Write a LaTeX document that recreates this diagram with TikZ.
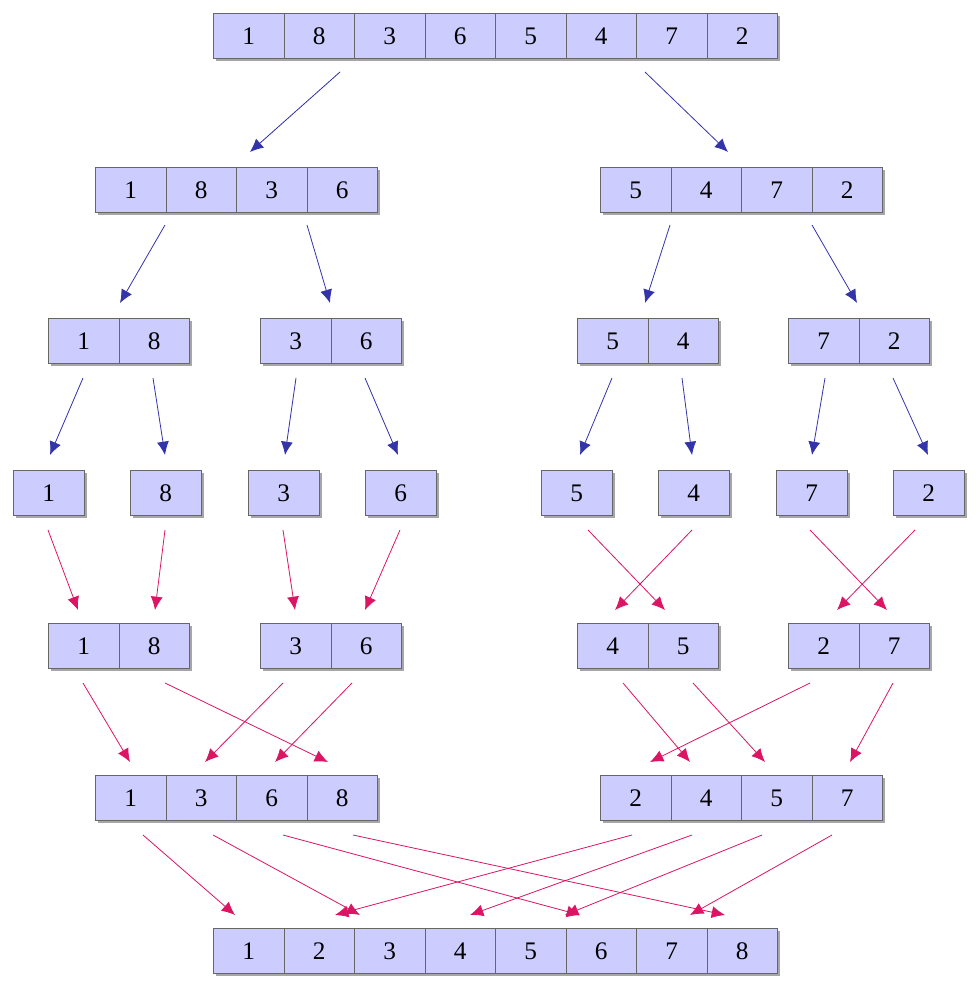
\documentclass[tikz,border=0pt]{standalone}
\usepackage{fontspec}
\setmainfont{Liberation Serif}
\usetikzlibrary{arrows.meta}
\begin{document}
\begin{tikzpicture}[x=0.0264cm,y=-0.0264cm,
 cell/.style={draw=gray!80!black,fill={rgb,255:red,204;green,204;blue,255},minimum width=70.5*0.0264cm,minimum height=45*0.0264cm,inner sep=0pt,font=\fontsize{19}{19}\selectfont,line width=0.8pt},
 ba/.style={draw={rgb,255:red,51;green,51;blue,170},line width=0.6pt,-{Latex[length=10pt,width=9pt]}},
 ra/.style={draw={rgb,255:red,220;green,20;blue,100},line width=0.6pt,-{Latex[length=10pt,width=9pt]}}]
\useasboundingbox (0,0) rectangle (980,992);
\newcommand{\arr}[4]{%
 \foreach \v [count=\i] in {#3}{%
  \fill[gray!70] ({#1+(\i-1)*70.5+3},{#2+3}) rectangle ++(70.5,45);}
 \foreach \v [count=\i] in {#3}{%
  \node[cell,anchor=north west] (#4\i) at ({#1+(\i-1)*70.5},#2) {\v};}}
\arr{213}{13}{1,8,3,6,5,4,7,2}{a}
\arr{95}{167}{1,8,3,6}{b}
\arr{600}{167}{5,4,7,2}{c}
\arr{48}{318}{1,8}{d}
\arr{260}{318}{3,6}{e}
\arr{577}{318}{5,4}{f}
\arr{788}{318}{7,2}{g}
\arr{13}{470}{1}{h}
\arr{130}{470}{8}{i}
\arr{248}{470}{3}{j}
\arr{365}{470}{6}{k}
\arr{541}{470}{5}{l}
\arr{658}{470}{4}{m}
\arr{776}{470}{7}{n}
\arr{893}{470}{2}{o}
\arr{48}{623}{1,8}{p}
\arr{260}{623}{3,6}{q}
\arr{577}{623}{4,5}{r}
\arr{788}{623}{2,7}{s}
\arr{95}{775}{1,3,6,8}{t}
\arr{600}{775}{2,4,5,7}{u}
\arr{213}{928}{1,2,3,4,5,6,7,8}{v}
\foreach \a/\b in {340/250,645/728}\draw[ba] (\a,72)--(\b,152);
\foreach \a/\b in {165/120,307/330,670/645,812/857}\draw[ba] (\a,225)--(\b,303);
\foreach \a/\b in {83/50,153/165,296/285,365/398,612/580,682/692,825/812,893/928}\draw[ba] (\a,378)--(\b,455);
\foreach \a/\b in {48/78,165/155,283/295,400/365,588/665,692/615,810/887,915/837}\draw[ra] (\a,530)--(\b,610);
\foreach \a/\b in {83/130,165/328,283/205,352/275,623/690,693/765,810/650,893/850}\draw[ra] (\a,683)--(\b,762);
\foreach \a/\b in {143/235,213/360,283/580,353/725,632/335,692/470,762/565,832/690}\draw[ra] (\a,835)--(\b,915);
\end{tikzpicture}
\end{document}
